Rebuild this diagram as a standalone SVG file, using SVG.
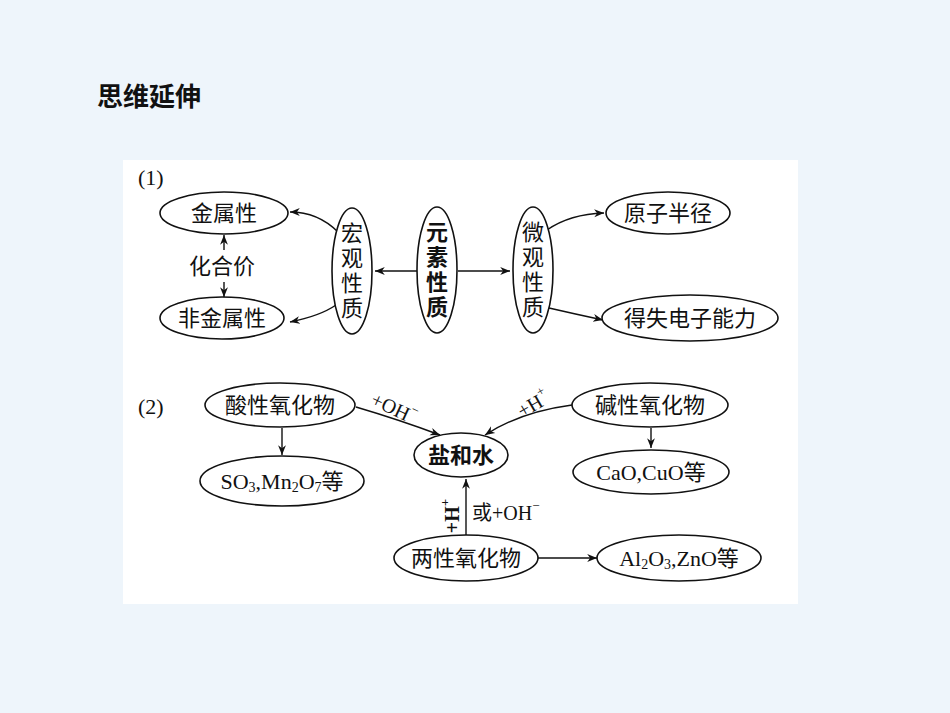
<svg xmlns="http://www.w3.org/2000/svg" width="950" height="713" viewBox="0 0 950 713">
<defs>
<marker id="a" viewBox="0 0 10 10" refX="10" refY="5" markerWidth="7" markerHeight="7" orient="auto-start-reverse"><path d="M0,1 L10,5 L0,9 L3,5 Z" fill="#111"/></marker>
<style>
.n{fill:#fff;stroke:#111;stroke-width:1.6}
.t{font-family:"Liberation Serif","Noto Sans CJK SC",serif;font-size:22px;fill:#111;text-anchor:middle;dominant-baseline:central}
.b{font-weight:bold}
.c path,.c line{fill:none;stroke:#111;stroke-width:1.4;marker-end:url(#a)}
</style>
</defs>
<rect width="950" height="713" fill="#eef5fb"/>
<rect x="123" y="160" width="675" height="444" fill="#fff"/>
<text x="97" y="97" class="t b" style="text-anchor:start;font-size:26px">思维延伸</text>
<text x="138" y="177" class="t" style="text-anchor:start">(1)</text>
<text x="138" y="406" class="t" style="text-anchor:start">(2)</text>
<g class="c">
<path d="M338,232 Q318,212 290,212"/>
<path d="M336,305 Q320,316 290,322"/>
<line x1="417" y1="271" x2="375" y2="271"/>
<line x1="458" y1="271" x2="510" y2="271"/>
<path d="M547,230 Q570,214 604,213"/>
<path d="M549,308 Q575,314 603,320"/>
<line x1="224" y1="250" x2="224" y2="235"/>
<line x1="224" y1="282" x2="224" y2="297"/>
<path d="M356,407 Q400,420 440,435"/>
<path d="M572,405 Q520,412 485,435"/>
<line x1="282" y1="428" x2="282" y2="455"/>
<line x1="651" y1="428" x2="651" y2="448"/>
<line x1="466" y1="535" x2="466" y2="479"/>
<line x1="538" y1="558" x2="597" y2="558"/>
</g>
<g id="jin"><ellipse class="n" cx="224" cy="213" rx="64" ry="21"/><text class="t" x="224" y="213">金属性</text></g>
<g id="feijin"><ellipse class="n" cx="222" cy="318" rx="62" ry="21"/><text class="t" x="222" y="318">非金属性</text></g>
<text class="t" x="222" y="266">化合价</text>
<g id="hong"><ellipse class="n" cx="352" cy="271" rx="20" ry="63"/><text class="t" x="352" y="233">宏</text><text class="t" x="352" y="258">观</text><text class="t" x="352" y="283">性</text><text class="t" x="352" y="308">质</text></g>
<g id="yuan"><ellipse class="n" cx="437" cy="270" rx="20" ry="63"/><text class="t b" x="437" y="232">元</text><text class="t b" x="437" y="257">素</text><text class="t b" x="437" y="282">性</text><text class="t b" x="437" y="307">质</text></g>
<g id="wei"><ellipse class="n" cx="533" cy="270" rx="20" ry="63"/><text class="t" x="533" y="232">微</text><text class="t" x="533" y="257">观</text><text class="t" x="533" y="282">性</text><text class="t" x="533" y="307">质</text></g>
<g id="yuanzi"><ellipse class="n" cx="668" cy="213" rx="62" ry="21"/><text class="t" x="668" y="213">原子半径</text></g>
<g id="deshi"><ellipse class="n" cx="690" cy="318" rx="88" ry="23"/><text class="t" x="690" y="318">得失电子能力</text></g>
<g id="suan"><ellipse class="n" cx="280" cy="405" rx="75" ry="22"/><text class="t" x="280" y="405">酸性氧化物</text></g>
<g id="yan"><ellipse class="n" cx="461" cy="455" rx="47" ry="22"/><text class="t b" x="461" y="455">盐和水</text></g>
<g id="jian"><ellipse class="n" cx="650" cy="405" rx="78" ry="22"/><text class="t" x="650" y="405">碱性氧化物</text></g>
<g id="so3"><ellipse class="n" cx="282" cy="481" rx="82" ry="25"/><text class="t" x="282" y="481">SO<tspan font-size="14" dy="6">3</tspan><tspan dy="-6">,Mn</tspan><tspan font-size="14" dy="6">2</tspan><tspan dy="-6">O</tspan><tspan font-size="14" dy="6">7</tspan><tspan dy="-6">等</tspan></text></g>
<g id="cao"><ellipse class="n" cx="651" cy="472" rx="78" ry="22"/><text class="t" x="651" y="472">CaO,CuO等</text></g>
<g id="liang"><ellipse class="n" cx="466" cy="558" rx="72" ry="23"/><text class="t" x="466" y="558">两性氧化物</text></g>
<g id="al"><ellipse class="n" cx="679" cy="558" rx="82" ry="23"/><text class="t" x="679" y="558">Al<tspan font-size="14" dy="6">2</tspan><tspan dy="-6">O</tspan><tspan font-size="14" dy="6">3</tspan><tspan dy="-6">,ZnO等</tspan></text></g>
<text class="t" x="0" y="0" transform="translate(394,408) rotate(25)" style="font-size:20px">+OH<tspan font-size="13" dy="-8">−</tspan></text>
<text class="t" x="0" y="0" transform="translate(533,404) rotate(-30)" style="font-size:20px">+H<tspan font-size="13" dy="-8">+</tspan></text>
<text class="t b" x="0" y="0" transform="translate(452,516) rotate(-90)" style="font-size:20px">+H<tspan font-size="13" dy="-8">+</tspan></text>
<text class="t" x="472" y="513" style="text-anchor:start;font-size:20px">或+OH<tspan font-size="13" dy="-8">−</tspan></text>
</svg>
